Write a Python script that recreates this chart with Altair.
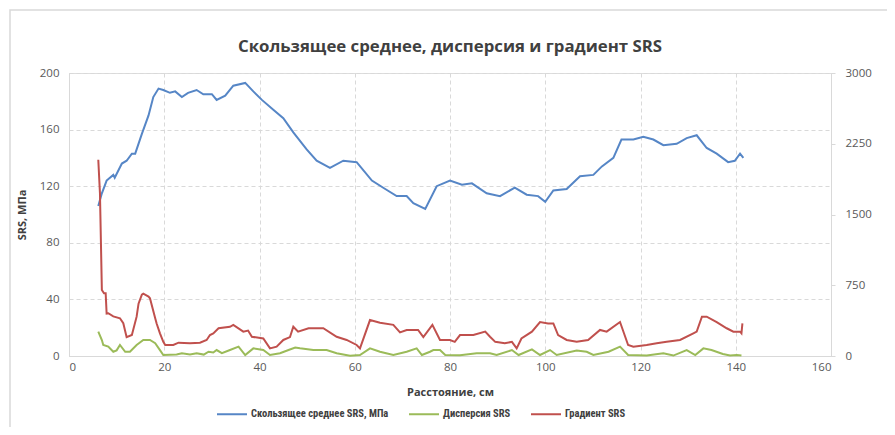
import altair as alt
import pandas as pd

TITLE = "Скользящее среднее, дисперсия и градиент SRS"
X_TITLE = "Расстояние, см"
Y_TITLE = "SRS, МПа"
S_MEAN = "Скользящее среднее SRS, МПа"
S_DISP = "Дисперсия SRS"
S_GRAD = "Градиент SRS"

x_ticks = [0, 20, 40, 60, 80, 100, 120, 140, 160]
left_ticks = [0, 40, 80, 120, 160, 200]
right_ticks = [0, 750, 1500, 2250, 3000]

mean_x = [6.15, 6.9, 7.9, 9.3, 9.6, 11.1, 12.1, 13.2, 13.9, 15.3, 16.7, 17.7, 18.8, 19.8,
          21.2, 22.3, 23.7, 25.0, 26.8, 28.2, 30.0, 31.0, 32.8, 34.5, 37.0, 38.7, 40.5,
          42.9, 45.0, 47.1, 49.9, 52.0, 54.8, 57.6, 60.4, 63.6, 66.4, 68.8, 70.9, 72.3,
          74.8, 77.2, 80.0, 82.5, 84.6, 87.7, 90.5, 93.6, 96.1, 98.5, 100.0, 101.7, 104.5,
          107.3, 110.1, 111.9, 114.3, 116.0, 118.5, 120.6, 122.7, 124.8, 127.6, 129.7,
          131.8, 133.9, 136.0, 138.4, 139.8, 140.9, 141.6]
mean_v = [106, 115, 124, 128, 126, 136, 138, 143, 143, 157, 170, 183, 189, 188,
          186, 187, 183, 186, 188, 185, 185, 181, 184, 191, 193, 187, 181,
          174, 168, 158, 146, 138, 133, 138, 137, 124, 118, 113, 113, 108,
          104, 120, 124, 121, 122, 115, 113, 119, 114, 113, 109, 117, 118,
          127, 128, 134, 140, 153, 153, 155, 153, 149, 150, 154,
          156, 147, 143, 137, 138, 143, 140]

disp_x = [6.15, 6.9, 7.2, 8.25, 9.3, 10.0, 10.7, 11.8, 12.8, 14.2, 15.6, 17.0, 18.1, 19.1,
          19.8, 22.6, 23.7, 25.4, 26.8, 28.3, 29.3, 30.3, 31.0, 32.1, 33.8, 35.6, 37.0,
          38.7, 40.8, 42.2, 44.3, 46.1, 47.5, 48.5, 51.3, 54.1, 56.2, 59.0, 61.1, 63.2,
          65.3, 68.1, 70.9, 73.0, 74.1, 75.8, 76.5, 77.9, 79.0, 82.1, 85.6, 88.4, 89.8,
          93.0, 94.4, 97.2, 98.9, 101.0, 102.4, 106.6, 108.7, 110.1, 113.3, 115.7, 117.4,
          121.3, 124.8, 126.9, 129.7, 131.5, 133.2, 134.9, 137.3, 138.8, 140.2, 141.2]
disp_v = [17.2, 11.3, 7.8, 6.6, 3.0, 4.0, 7.8, 3.0, 3.0, 7.8, 11.3, 11.3, 9.0, 4.2,
          0.7, 1.0, 2.0, 1.0, 2.0, 1.0, 3.0, 2.5, 4.2, 2.0, 4.2, 6.6, 0.7,
          5.4, 4.2, 0.7, 2.0, 4.2, 6.0, 5.4, 4.2, 4.2, 1.9, 0.2, 0.7, 5.4,
          3.0, 0.7, 3.0, 5.4, 0.7, 3.0, 4.2, 4.2, 0.7, 0.5, 1.9, 1.9, 0.7,
          4.2, 0.7, 4.7, 0.7, 4.2, 0.7, 3.8, 3.0, 0.7, 3.0, 6.6, 0.7,
          0.3, 1.9, 0.3, 4.2, 0.7, 5.4, 4.2, 1.4, 0.3, 0.7, 0.3]

grad_x = [6.15, 6.5, 6.9, 7.35, 7.7, 7.9, 8.25, 9.3, 10.7, 11.4, 12.1, 13.2, 14.2, 14.6,
          15.3, 15.6, 16.7, 17.0, 18.1, 18.4, 19.1, 19.8, 20.2, 21.9, 23.0, 25.4, 27.5,
          28.9, 29.6, 30.3, 31.4, 33.8, 34.5, 36.6, 37.6, 38.4, 40.8, 42.2, 43.6, 45.0,
          46.4, 47.1, 48.1, 50.3, 53.4, 56.2, 58.3, 60.4, 61.1, 63.2, 65.3, 68.1, 69.5,
          70.9, 73.3, 74.4, 76.3, 77.9, 80.0, 81.0, 82.1, 84.9, 87.4, 88.4, 89.5, 91.5,
          93.0, 94.0, 95.0, 97.2, 98.9, 100.6, 101.7, 102.7, 104.5, 106.6, 109.0, 111.5,
          112.9, 115.7, 117.4, 118.5, 121.3, 123.4, 125.5, 128.3, 131.1, 131.8, 132.9,
          133.9, 136.0, 138.1, 139.5, 140.9, 141.2, 141.4]
grad_v = [2080, 1725, 700, 665, 665, 450, 453, 420, 400, 347, 200, 223, 417, 555,
          650, 660, 630, 612, 400, 345, 240, 150, 117, 117, 141, 135, 141,
          170, 222, 240, 294, 310, 330, 258, 270, 204, 186, 81, 99, 170,
          200, 310, 258, 294, 294, 204, 170, 117, 81, 381, 352, 330, 250,
          276, 276, 200, 330, 170, 170, 150, 222, 222, 258, 204, 150, 135,
          150, 81, 186, 258, 360, 345, 345, 222, 170, 150, 170, 276,
          258, 360, 117, 99, 117, 135, 150, 170, 240, 258, 417,
          417, 360, 294, 258, 258, 240, 345]

series = [S_MEAN, S_DISP, S_GRAD]
colors = ["#5686c6", "#9bbb59", "#c0504d"]

df_left = pd.concat([
    pd.DataFrame({"x": mean_x, "v": mean_v, "s": S_MEAN}),
    pd.DataFrame({"x": disp_x, "v": disp_v, "s": S_DISP}),
])
df_right = pd.DataFrame({"x": grad_x, "v": grad_v, "s": S_GRAD})

FONT = "Open Sans"
NARROW = "Liberation Sans Narrow, Roboto Condensed, Open Sans"
GRID = "#d9d9d9"
LBL = "#595959"

color_enc = alt.Color(
    "s:N",
    scale=alt.Scale(domain=series, range=colors),
    sort=series,
    legend=alt.Legend(
        title=None, orient="none", direction="horizontal",
        legendX=147, legendY=325,
        symbolType="stroke", symbolSize=900, symbolStrokeWidth=2,
        labelFont=NARROW, labelFontSize=10.5, labelFontWeight="bold", labelColor="#404040",
        labelLimit=400, columnPadding=16, labelOffset=3,
    ),
)

x_enc = alt.X(
    "x:Q",
    scale=alt.Scale(domain=[0, 160], nice=False),
    axis=alt.Axis(
        values=x_ticks, title=X_TITLE, grid=True, gridDash=[4, 3], gridColor=GRID,
        domainColor=GRID, ticks=False, labelPadding=5, labelFont=FONT, labelFontSize=11.5,
        labelColor=LBL, titleFont=FONT, titleFontSize=11, titleFontWeight="bold",
        titleColor="#404040", titlePadding=14,
    ),
)

left = alt.Chart(df_left).mark_line(strokeWidth=2).encode(
    x=x_enc,
    y=alt.Y(
        "v:Q",
        scale=alt.Scale(domain=[0, 200], nice=False),
        axis=alt.Axis(
            values=left_ticks, title=Y_TITLE, grid=True, gridDash=[4, 3], gridColor=GRID,
            domainColor=GRID, ticks=False, labelPadding=10, labelFont=FONT, labelFontSize=11.5,
            labelColor=LBL, titleFont=FONT, titleFontSize=11, titleFontWeight="bold",
            titleColor="#404040", titlePadding=12,
        ),
    ),
    color=color_enc,
)

right = alt.Chart(df_right).mark_line(strokeWidth=2).encode(
    x=x_enc,
    y=alt.Y(
        "v:Q",
        scale=alt.Scale(domain=[0, 3000], nice=False),
        axis=alt.Axis(
            orient="right", values=right_ticks, title=None, grid=False, format="d",
            domainColor=GRID, ticks=True, tickColor=GRID, tickSize=4,
            labelPadding=10, labelFont=FONT, labelFontSize=11.5, labelColor=LBL,
        ),
    ),
    color=color_enc,
)

frame = alt.Chart(pd.DataFrame({"a": [0]})).mark_rect(
    fill=None, stroke="#d9d9d9", strokeWidth=1.5
).encode(x=alt.value(-59), x2=alt.value(900), y=alt.value(-63), y2=alt.value(600))

chart = alt.layer(frame, left, right).resolve_scale(y="independent").properties(
    width=762, height=283,
    title=alt.TitleParams(
        TITLE, font=FONT, fontSize=16.8, fontWeight="bold", color="#404040",
        anchor="middle", frame="group", offset=0, dy=47,
    ),
    autosize=alt.AutoSizeParams(type="none"),
    padding={"left": 61, "top": 65, "right": 56, "bottom": 71},
).configure_view(stroke=None).configure(background="white")

chart.save("out.html", embed_options={"renderer": "svg", "actions": False})
